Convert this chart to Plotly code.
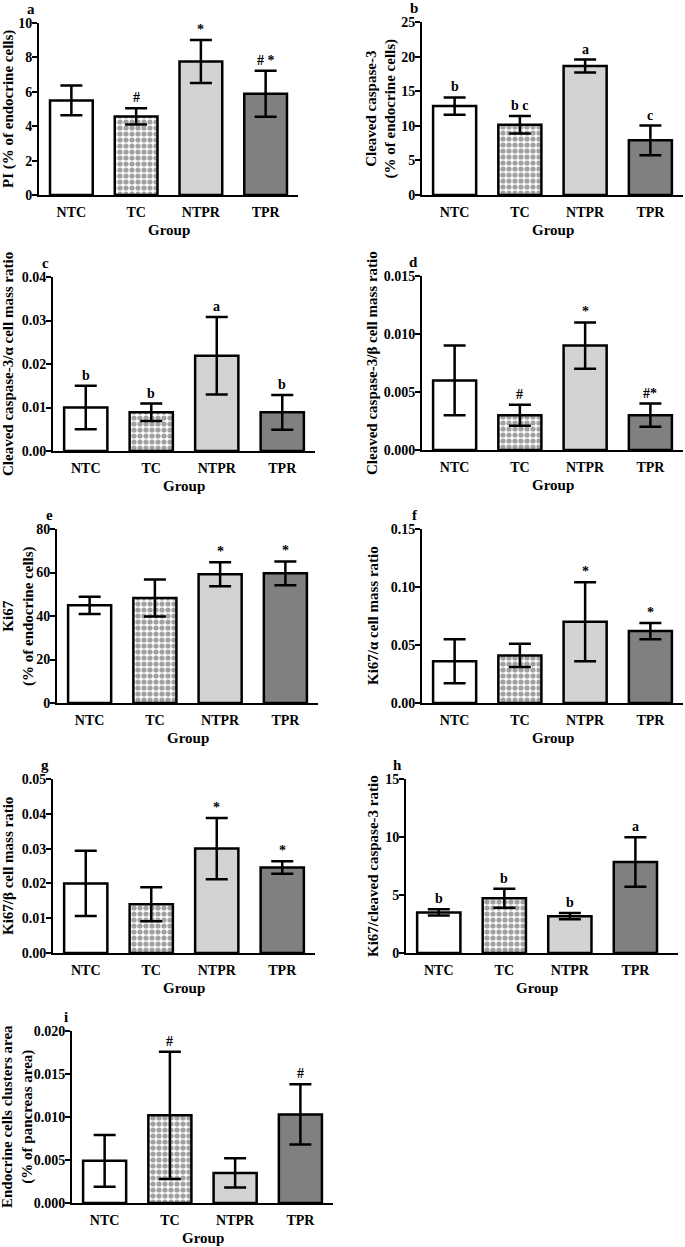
import plotly.graph_objects as go

# ------------------------------------------------------------
# Data (mean and error half-width per group)
# ------------------------------------------------------------
groups = ["NTC", "TC", "NTPR", "TPR"]

# a: PI
pi_mean = [5.5, 4.57, 7.76, 5.89]
pi_err = [0.86, 0.47, 1.25, 1.34]
pi_marks = ["", "#", "*", "# *"]

# b: cleaved caspase-3
casp_mean = [12.85, 10.15, 18.65, 7.9]
casp_err = [1.25, 1.28, 0.93, 2.14]
casp_marks = ["b", "b c", "a", "c"]

# c: cleaved caspase-3 / alpha cell mass
casp_alpha_mean = [0.010, 0.0089, 0.0219, 0.0089]
casp_alpha_err = [0.005, 0.002, 0.0089, 0.004]
casp_alpha_marks = ["b", "b", "a", "b"]

# d: cleaved caspase-3 / beta cell mass
casp_beta_mean = [0.006, 0.003, 0.009, 0.003]
casp_beta_err = [0.003, 0.0009, 0.002, 0.001]
casp_beta_marks = ["", "#", "*", "#*"]

# e: Ki67
ki67_mean = [44.9, 48.3, 59.2, 59.6]
ki67_err = [4.0, 8.5, 5.5, 5.5]
ki67_marks = ["", "", "*", "*"]

# f: Ki67 / alpha cell mass
ki67_alpha_mean = [0.036, 0.041, 0.070, 0.062]
ki67_alpha_err = [0.019, 0.010, 0.034, 0.007]
ki67_alpha_marks = ["", "", "*", "*"]

# g: Ki67 / beta cell mass
ki67_beta_mean = [0.020, 0.014, 0.030, 0.0246]
ki67_beta_err = [0.0094, 0.0049, 0.0088, 0.0018]
ki67_beta_marks = ["", "", "*", "*"]

# h: Ki67 / cleaved caspase-3
ratio_mean = [3.5, 4.72, 3.17, 7.85]
ratio_err = [0.27, 0.82, 0.27, 2.13]
ratio_marks = ["b", "b", "b", "a"]

# i: endocrine cell clusters area
cluster_mean = [0.0049, 0.0102, 0.0035, 0.0103]
cluster_err = [0.0030, 0.0074, 0.0017, 0.0035]
cluster_marks = ["", "#", "", "#"]

# ------------------------------------------------------------
# Layout helpers (pixel boxes -> paper coords)
# ------------------------------------------------------------
W, H = 685, 1247
FONT = "Liberation Serif"


def px(x):
    return x / W


def py(y):
    return 1 - y / H


fills = ["white", "white", "#d3d3d3", "#808080"]
shapes = ["", ".", "", ""]

# letter, mean, err, marks, ymax, dtick, fmt, ytitle, title x, box(x0, x1, ytop, ybottom), xmax
panels = [
    ("a", pi_mean, pi_err, pi_marks, 10, 2, "d",
     "PI (% of endocrine cells)", 8, (39, 298, 23, 195), 3.5),
    ("b", casp_mean, casp_err, casp_marks, 25, 5, "d",
     "Cleaved caspase-3<br>(% of endocrine cells)", 381, (422, 683, 22, 195), 3.5),
    ("c", casp_alpha_mean, casp_alpha_err, casp_alpha_marks, 0.04, 0.01, ".2f",
     "Cleaved caspase-3/α cell mass ratio", 8, (53, 315, 277, 451), 3.5),
    ("d", casp_beta_mean, casp_beta_err, casp_beta_marks, 0.015, 0.005, ".3f",
     "Cleaved caspase-3/β cell mass ratio", 372, (422, 683, 276, 450), 3.5),
    ("e", ki67_mean, ki67_err, ki67_marks, 80, 20, "d",
     "Ki67<br>(% of endocrine cells)", 18, (57, 318, 529, 703), 3.5),
    ("f", ki67_alpha_mean, ki67_alpha_err, ki67_alpha_marks, 0.15, 0.05, ".2f",
     "Ki67/α cell mass ratio", 373, (422, 683, 529, 703), 3.5),
    ("g", ki67_beta_mean, ki67_beta_err, ki67_beta_marks, 0.05, 0.01, ".2f",
     "Ki67/β cell mass ratio", 8, (53, 315, 779, 953), 3.5),
    ("h", ratio_mean, ratio_err, ratio_marks, 15, 5, "d",
     "Ki67/cleaved caspase-3 ratio", 373, (406, 678, 779, 953), 3.65),
    ("i", cluster_mean, cluster_err, cluster_marks, 0.02, 0.005, ".3f",
     "Endocrine cells clusters area<br>(% of pancreas area)", 17, (72, 333, 1031, 1203), 3.5),
]

fig = go.Figure()
annotations = []
layout_axes = {}

for i, (letter, mean, err, marks, ymax, dtick, fmt, ytitle, tx, box, xmax) in enumerate(panels):
    n = "" if i == 0 else str(i + 1)
    x0, x1, yt, yb = box
    fig.add_trace(go.Bar(
        x=groups, y=mean,
        xaxis="x" + n, yaxis="y" + n,
        width=0.66,
        marker=dict(
            color=fills,
            line=dict(color="black", width=2.5),
            pattern=dict(shape=shapes, fgcolor="#4a4a4a", bgcolor="white",
                         size=6, solidity=0.6),
        ),
        error_y=dict(type="data", array=err, color="black", thickness=2.5, width=11),
        showlegend=False,
        hoverinfo="skip",
    ))
    layout_axes["xaxis" + n] = dict(
        domain=[px(x0), px(x1)], anchor="y" + n, type="category",
        range=[-0.5, xmax], showline=True, linecolor="black", linewidth=2,
        ticks="", showgrid=False, zeroline=False, ticklabelstandoff=3,
        automargin=False,
        tickfont=dict(family=FONT, size=14, color="black", weight="bold"),
    )
    layout_axes["yaxis" + n] = dict(
        domain=[py(yb), py(yt)], anchor="x" + n,
        range=[0, ymax], dtick=dtick, tick0=0, tickformat=fmt,
        showline=True, linecolor="black", linewidth=2,
        ticks="outside", ticklen=5, tickwidth=2, tickcolor="black",
        showgrid=False, zeroline=False, automargin=False, ticklabelstandoff=-3,
        tickfont=dict(family=FONT, size=14, color="black", weight="bold"),
    )
    # panel letter
    annotations.append(dict(
        x=px(x0 - 2), y=py(yt - 14), xref="paper", yref="paper",
        text=letter, showarrow=False, xanchor="right", yanchor="middle",
        font=dict(family=FONT, size=15, color="black", weight="bold"),
    ))
    # y title
    annotations.append(dict(
        x=px(tx), y=py((yt + yb) / 2), xref="paper", yref="paper",
        text=ytitle, textangle=-90, showarrow=False,
        xanchor="center", yanchor="middle",
        font=dict(family=FONT, size=15, color="black", weight="bold"),
    ))
    # x title
    annotations.append(dict(
        x=px((x0 + x1) / 2 if xmax == 3.5 else x0 + (x1 - x0) * 2.0 / (xmax + 0.5)),
        y=py(yb + 35), xref="paper", yref="paper",
        text="Group", showarrow=False, xanchor="center", yanchor="middle",
        font=dict(family=FONT, size=15, color="black", weight="bold"),
    ))
    # significance marks
    for g, m, e, s in zip(groups, mean, err, marks):
        if s:
            annotations.append(dict(
                x=g, y=m + e, xref="x" + n, yref="y" + n,
                text=s, showarrow=False, xanchor="center", yanchor="bottom",
                yshift=1,
                font=dict(family=FONT, size=14, color="black", weight="bold"),
            ))

fig.update_layout(
    width=W, height=H,
    margin=dict(l=0, r=0, t=0, b=0, autoexpand=False),
    plot_bgcolor="white", paper_bgcolor="white",
    bargap=0.34,
    hovermode=False,
    annotations=annotations,
    **layout_axes,
)

# drop the default page margin so the figure sits at the window's corner
fig.write_html("out.html", config={"displayModeBar": False},
               post_script="document.body.style.margin='0';")
